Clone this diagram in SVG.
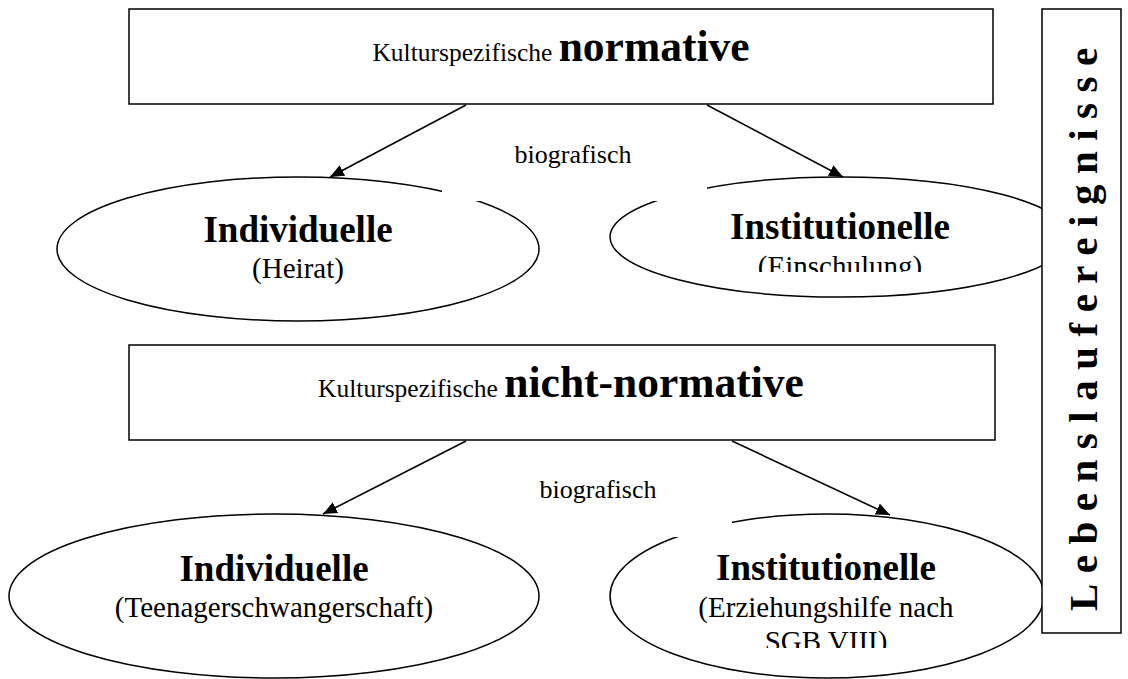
<svg xmlns="http://www.w3.org/2000/svg" width="1128" height="679" viewBox="0 0 1128 679">
<style>
 .box{fill:#fff;stroke:#000;stroke-width:1.5}
 .ell{fill:#fff;stroke:#000;stroke-width:1.5}
 .mask{fill:#fff;stroke:none}
 .t{font-family:"Liberation Serif","Times New Roman",serif;fill:#000}
 .reg{font-size:29px}
 .b{font-weight:bold;font-size:37px}
 .small{font-size:25.5px}
 .big{font-weight:bold;font-size:43.5px}
 .lbl{font-size:26px}
 .side{font-weight:bold;font-size:41px;letter-spacing:10.5px}
 .edge{stroke:#000;stroke-width:1.6;fill:none;marker-end:url(#ah)}
</style>
<defs>
 <marker id="ah" markerUnits="userSpaceOnUse" markerWidth="16" markerHeight="12" refX="14" refY="6" orient="auto"><path d="M0,0 L14,6 L0,12 z" fill="#000"/></marker>
 <clipPath id="c1"><rect x="600" y="200" width="480" height="72"/></clipPath>
 <clipPath id="c2"><rect x="600" y="600" width="480" height="48"/></clipPath>
</defs>

<g id="node-normative">
 <rect class="box" x="129" y="9" width="864" height="95"/>
 <text class="t" x="561" y="61" text-anchor="middle"><tspan class="small">Kulturspezifische </tspan><tspan class="big">normative</tspan></text>
</g>

<g id="node-individuelle-1">
 <ellipse class="ell" cx="298" cy="249" rx="241" ry="72"/>
 <text class="t b" x="298" y="242" text-anchor="middle">Individuelle</text>
 <text class="t reg" x="298" y="278" text-anchor="middle">(Heirat)</text>
</g>

<g id="node-institutionelle-1">
 <ellipse class="ell" cx="840" cy="237" rx="230" ry="60"/>
 <text class="t b" x="840" y="239" text-anchor="middle">Institutionelle</text>
 <text class="t reg" x="840" y="276" text-anchor="middle" clip-path="url(#c1)">(Einschulung)</text>
</g>

<g id="label-biografisch-1">
 <rect class="mask" x="442" y="125" width="265" height="76"/>
 <text class="t lbl" x="573" y="163" text-anchor="middle">biografisch</text>
</g>

<g id="node-nicht-normative">
 <rect class="box" x="129" y="345" width="866" height="95"/>
 <text class="t" x="561" y="397" text-anchor="middle"><tspan class="small">Kulturspezifische </tspan><tspan class="big">nicht-normative</tspan></text>
</g>

<g id="node-individuelle-2">
 <ellipse class="ell" cx="274" cy="596" rx="265" ry="82"/>
 <text class="t b" x="274" y="581" text-anchor="middle">Individuelle</text>
 <text class="t reg" x="274" y="617" text-anchor="middle">(Teenagerschwangerschaft)</text>
</g>

<g id="node-institutionelle-2">
 <ellipse class="ell" cx="827" cy="596" rx="217" ry="82"/>
 <text class="t b" x="826" y="580" text-anchor="middle">Institutionelle</text>
 <text class="t reg" x="826" y="617" text-anchor="middle">(Erziehungshilfe nach</text>
 <text class="t reg" x="826" y="651" text-anchor="middle" clip-path="url(#c2)">SGB VIII)</text>
</g>

<g id="label-biografisch-2">
 <rect class="mask" x="467" y="460" width="265" height="77"/>
 <text class="t lbl" x="598" y="498" text-anchor="middle">biografisch</text>
</g>

<g id="node-lebenslaufereignisse">
 <rect class="box" x="1042" y="9" width="79" height="624"/>
 <text class="t side" transform="translate(1097,611) rotate(-90)">Lebenslaufereignisse</text>
</g>

<g id="connectors">
 <line class="edge" x1="466" y1="105" x2="330" y2="177"/>
 <line class="edge" x1="707" y1="105" x2="843" y2="177"/>
 <line class="edge" x1="466" y1="441" x2="323" y2="514"/>
 <line class="edge" x1="732" y1="441" x2="890" y2="515"/>
</g>
</svg>
